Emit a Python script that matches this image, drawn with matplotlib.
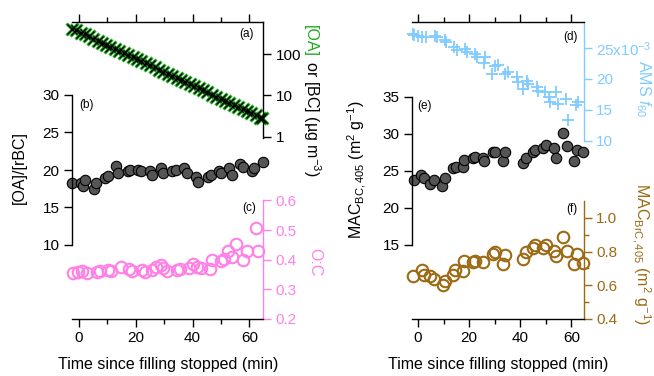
import matplotlib
matplotlib.use('Agg')
import matplotlib.pyplot as plt
from matplotlib.ticker import FixedLocator, FixedFormatter, NullLocator

plt.rcParams['font.family'] = ['Liberation Sans', 'DejaVu Sans']
plt.rcParams['mathtext.fontset'] = 'custom'
plt.rcParams['mathtext.rm'] = 'Liberation Sans'
plt.rcParams['mathtext.it'] = 'Liberation Sans:italic'
plt.rcParams['mathtext.bf'] = 'Liberation Sans:bold'

# ---- data ----
# (a) [OA] / [BC] concentration, log scale
t_conc = [-2.4, -1.0, 0.6, 2.0, 3.5, 5.1, 6.6, 8.0, 9.6, 11.1, 12.7, 14.2, 15.8, 17.3, 18.9,
          20.4, 22.0, 23.5, 25.1, 26.6, 28.2, 29.7, 31.3, 32.8, 34.4, 35.9, 37.5, 39.0, 40.6,
          42.1, 43.7, 45.2, 46.8, 48.3, 49.9, 51.4, 53.0, 54.5, 56.1, 57.6, 59.2, 60.7, 62.3,
          63.8, 64.6]
oa_conc = [417, 376, 333, 300, 268, 238, 213, 191, 170, 152, 135, 120, 107, 95.5, 84.7,
           75.7, 67.1, 60.0, 53.2, 47.6, 42.2, 37.7, 33.5, 29.9, 26.5, 23.7, 21.0, 18.8, 16.7,
           14.9, 13.2, 11.8, 10.5, 9.4, 8.3, 7.4, 6.6, 5.9, 5.2, 4.7, 4.15, 3.7, 3.3, 2.9, 2.8]
bc_conc = [417, 376, 333, 300, 268, 238, 213, 191, 170, 152, 135, 120, 107, 95.5, 84.7,
           75.7, 67.1, 60.0, 53.2, 47.6, 42.2, 37.7, 33.5, 29.9, 26.5, 23.7, 21.0, 18.8, 16.7,
           14.9, 13.2, 11.8, 10.5, 9.4, 8.3, 7.4, 6.6, 5.9, 5.2, 4.7, 4.15, 3.7, 3.3, 2.9, 2.8]

# (b) [OA]/[rBC]
t_ratio = [-2.35, 0.7, 1.3, 2.1, 5.4, 5.9, 9.2, 10.1, 12.9, 13.8, 17.1, 18.0, 20.9, 21.8, 25.0,
           25.8, 28.9, 29.7, 32.9, 34.0, 37.0, 37.9, 41.1, 42.0, 45.5, 46.5, 49.3, 50.0, 52.9,
           53.8, 56.7, 57.9, 60.8, 61.6, 64.8]
ratio = [18.3, 18.2, 17.9, 18.7, 17.4, 18.2, 18.9, 19.2, 20.5, 19.55, 19.9, 20.05, 20.0, 19.8, 19.8,
         19.35, 20.2, 19.6, 19.9, 20.0, 20.3, 19.55, 19.0, 18.4, 19.1, 19.3, 19.9, 19.6, 20.2,
         19.3, 20.8, 20.4, 19.8, 20.3, 21.1]

# (c) O:C
t_oc = [-2.0, -0.5, 0.9, 2.7, 6.2, 7.4, 10.1, 11.3, 14.8, 17.6, 18.5, 22.1, 23.2, 25.8, 27.0,
        28.9, 29.7, 30.9, 34.4, 35.6, 38.7, 40.3, 41.4, 43.0, 46.1, 46.7, 50.0, 51.2, 52.6,
        53.8, 55.2, 57.9, 59.0, 62.2, 62.9]
oc = [0.354, 0.360, 0.363, 0.355, 0.360, 0.362, 0.366, 0.362, 0.374, 0.368, 0.362, 0.365, 0.360,
      0.366, 0.374, 0.383, 0.372, 0.362, 0.365, 0.370, 0.372, 0.385, 0.374, 0.372, 0.368, 0.399,
      0.397, 0.402, 0.430, 0.408, 0.453, 0.399, 0.430, 0.507, 0.428]

# (d) AMS f60
t_f60 = [-2.1, -1.4, 0.1, 1.7, 3.0, 6.6, 7.3, 10.5, 10.8, 14.2, 15.1, 18.4, 19.0, 22.3, 22.9,
         25.9, 26.2, 29.1, 30.1, 31.1, 34.0, 35.1, 38.6, 39.2, 41.2, 42.5, 43.1, 46.4, 47.0,
         49.7, 51.2, 51.6, 53.8, 54.6, 57.7, 58.5, 61.6, 62.7]
f60 = [0.0272, 0.0270, 0.0269, 0.0267, 0.0267, 0.0269, 0.0267, 0.0262, 0.0259, 0.0251, 0.0246,
       0.0248, 0.0244, 0.0240, 0.0235, 0.0226, 0.0235, 0.0208, 0.0221, 0.0223, 0.0208, 0.0211,
       0.0203, 0.0195, 0.0184, 0.0196, 0.0192, 0.0187, 0.0181, 0.0179, 0.0171, 0.0163, 0.0179,
       0.0160, 0.0167, 0.0133, 0.0158, 0.0163]

# (e) MAC_BC,405
t_mac_bc = [-1.6, 1.0, 2.3, 4.7, 6.3, 9.3, 10.6, 13.6, 14.9, 17.5, 18.0, 21.4, 22.3, 25.3, 25.8,
            29.5, 30.1, 33.1, 34.0, 40.9, 42.2, 44.9, 45.8, 49.0, 50.1, 53.3, 54.0, 56.8, 58.1,
            61.1, 62.1, 64.5]
mac_bc = [23.8, 24.5, 24.1, 23.2, 23.8, 23.0, 24.0, 25.4, 25.5, 25.5, 26.5, 26.7, 26.85, 26.7,
          26.3, 27.6, 27.6, 26.3, 27.5, 26.1, 26.7, 27.6, 27.9, 28.1, 28.5, 28.1, 26.7, 30.2,
          28.4, 26.3, 27.9, 27.5]

# (f) MAC_BrC,405
t_mac_brc = [-1.8, 1.4, 2.3, 4.7, 6.3, 9.7, 10.6, 13.6, 14.5, 17.5, 18.0, 21.4, 22.3, 25.3,
             29.5, 30.1, 33.1, 34.0, 40.9, 42.2, 44.9, 45.8, 49.0, 50.1, 53.3, 54.0, 56.8,
             58.1, 61.1, 62.1, 64.5]
mac_brc = [0.654, 0.690, 0.660, 0.654, 0.640, 0.600, 0.626, 0.660, 0.690, 0.686, 0.746, 0.740,
           0.746, 0.740, 0.786, 0.800, 0.726, 0.780, 0.754, 0.800, 0.820, 0.840, 0.820, 0.840,
           0.806, 0.774, 0.886, 0.806, 0.726, 0.786, 0.734]

GREEN = '#1fa81f'
PINK = '#ff80e6'
BLUE = '#80ccff'
BROWN = '#9c6a14'
GRAY = '#555555'

W, H = 654, 376
fig = plt.figure(figsize=(W / 100, H / 100), dpi=100)

FS = 11.5      # axis titles
TFS = 11       # tick labels
PFS = 8.5      # panel letters
XL = (-2.45, 64.8)
XR = (-2.35, 64.7)


def new_axes(x0, y0, x1, y1):
    # box in pixel coords, origin at top left
    ax = fig.add_axes([x0 / W, 1 - y1 / H, (x1 - x0) / W, (y1 - y0) / H])
    ax.patch.set_visible(False)
    for s in ax.spines.values():
        s.set_visible(False)
        s.set_linewidth(1.0)
    ax.tick_params(which='both', direction='out', width=1.0, labelsize=TFS,
                   left=False, right=False, top=False, bottom=False,
                   labelleft=False, labelright=False, labeltop=False, labelbottom=False)
    ax.tick_params(which='major', length=6, pad=3)
    ax.tick_params(which='minor', length=3.5)
    return ax


def time_axis(ax, side, labels):
    ax.spines[side].set_visible(True)
    ax.xaxis.set_major_locator(FixedLocator([0, 20, 40, 60]))
    ax.xaxis.set_minor_locator(FixedLocator([10, 30, 50]))
    if side == 'top':
        ax.tick_params(axis='x', which='both', top=True, labeltop=False)
    else:
        ax.tick_params(axis='x', which='both', bottom=True, labelbottom=labels)


def value_axis(ax, side, ticks, labels, color='black', minor=None):
    ax.spines[side].set_visible(True)
    ax.spines[side].set_color(color)
    ax.yaxis.set_major_locator(FixedLocator(ticks))
    ax.yaxis.set_major_formatter(FixedFormatter(labels))
    ax.yaxis.set_minor_locator(FixedLocator(minor) if minor else NullLocator())
    if side == 'left':
        ax.tick_params(axis='y', which='both', left=True, labelleft=True, color=color, labelcolor=color)
    else:
        ax.tick_params(axis='y', which='both', right=True, labelright=True, color=color, labelcolor=color)


# ---- left column ----
ax_a = new_axes(72, 22, 263, 138)
ax_a.set_yscale('log')
ax_a.set_xlim(*XL)
ax_a.set_ylim(0.93, 600)
time_axis(ax_a, 'top', False)
value_axis(ax_a, 'right', [1, 10, 100], ['1', '10', '100'])
ax_a.yaxis.set_minor_locator(NullLocator())
ax_a.plot(t_conc, oa_conc, color=GREEN, lw=2, marker='x', ms=8, mew=2.2, clip_on=False)
ax_a.plot(t_conc, bc_conc, ls='none', color='black', marker='x', ms=7, mew=1.0, clip_on=False)
ax_a.text(0.915, 0.9, '(a)', transform=ax_a.transAxes, fontsize=PFS, ha='center', va='center')

ax_b = new_axes(72, 95, 263, 245)
ax_b.set_xlim(*XL)
ax_b.set_ylim(10, 30)
value_axis(ax_b, 'left', [10, 15, 20, 25, 30], ['10', '15', '20', '25', '30'])
ax_b.plot(t_ratio, ratio, ls='none', marker='o', ms=7.5, mfc=GRAY, mec='black', mew=0.8, clip_on=False)
ax_b.text(0.075, 0.935, '(b)', transform=ax_b.transAxes, fontsize=PFS, ha='center', va='center')

ax_c = new_axes(72, 200.5, 263, 319)
ax_c.set_xlim(*XL)
ax_c.set_ylim(0.2, 0.6)
time_axis(ax_c, 'bottom', True)
value_axis(ax_c, 'right', [0.2, 0.3, 0.4, 0.5, 0.6], ['0.2', '0.3', '0.4', '0.5', '0.6'], color=PINK)
ax_c.plot(t_oc, oc, ls='none', marker='o', ms=8.3, mfc='none', mec=PINK, mew=1.5, clip_on=False)
ax_c.text(0.93, 0.935, '(c)', transform=ax_c.transAxes, fontsize=PFS, ha='center', va='center')

# ---- right column ----
ax_d = new_axes(412, 22, 583.5, 141)
ax_d.set_xlim(*XR)
ax_d.set_ylim(0.010, 0.02915)
time_axis(ax_d, 'top', False)
value_axis(ax_d, 'right', [0.010, 0.015, 0.020, 0.025],
           ['10', '15', '20', '25x10$^{-3}$'], color=BLUE)
ax_d.plot(t_f60, f60, ls='none', marker='+', ms=8.5, mew=1.3, color=BLUE, clip_on=False)
ax_d.text(0.925, 0.87, '(d)', transform=ax_d.transAxes, fontsize=PFS, ha='center', va='center')

ax_e = new_axes(412, 97, 583.5, 245)
ax_e.set_xlim(*XR)
ax_e.set_ylim(15, 35)
value_axis(ax_e, 'left', [15, 20, 25, 30, 35], ['15', '20', '25', '30', '35'])
ax_e.plot(t_mac_bc, mac_bc, ls='none', marker='o', ms=7.5, mfc=GRAY, mec='black', mew=0.8, clip_on=False)
ax_e.text(0.075, 0.94, '(e)', transform=ax_e.transAxes, fontsize=PFS, ha='center', va='center')

ax_f = new_axes(412, 201, 583.5, 319)
ax_f.set_xlim(*XR)
ax_f.set_ylim(0.4, 1.1)
time_axis(ax_f, 'bottom', True)
value_axis(ax_f, 'right', [0.4, 0.6, 0.8, 1.0], ['0.4', '0.6', '0.8', '1.0'], color=BROWN,
           minor=[0.5, 0.7, 0.9])
ax_f.plot(t_mac_brc, mac_brc, ls='none', marker='o', ms=8.3, mfc='none', mec=BROWN, mew=1.5, clip_on=False)
ax_f.text(0.935, 0.935, '(f)', transform=ax_f.transAxes, fontsize=PFS, ha='center', va='center')


# ---- axis titles ----
def px(x, y):
    return x / W, 1 - y / H


fig.text(*px(168, 364), 'Time since filling stopped (min)', fontsize=FS, ha='center', va='center')
fig.text(*px(498, 364), 'Time since filling stopped (min)', fontsize=FS, ha='center', va='center')
fig.text(*px(19, 168), '[OA]/[rBC]', fontsize=FS, rotation=90, ha='center', va='center')
fig.text(*px(315, 262), 'O:C', fontsize=FS, rotation=270, ha='center', va='center', color=PINK)
fig.text(*px(356, 170), 'MAC$_{\\mathrm{BC,405}}$ (m$^{2}$ g$^{-1}$)', fontsize=FS,
         rotation=90, ha='center', va='center')
fig.text(*px(641, 254), 'MAC$_{\\mathrm{BrC,405}}$ (m$^{2}$ g$^{-1}$)', fontsize=FS,
         rotation=270, ha='center', va='center', color=BROWN)
fig.text(*px(643, 89), 'AMS $f_{60}$', fontsize=FS, rotation=270, ha='center', va='center', color=BLUE)

# two-colour label on the log axis
lab1 = fig.text(*px(306, 25), '[OA]', fontsize=FS, color=GREEN, rotation=270,
                rotation_mode='anchor', ha='left', va='baseline')
fig.canvas.draw()
h = lab1.get_window_extent().height
fig.text(*px(306, 25 + h), ' or [BC] (µg m$^{-3}$)', fontsize=FS, color='black', rotation=270,
         rotation_mode='anchor', ha='left', va='baseline')

fig.savefig('out.png', dpi=100)
